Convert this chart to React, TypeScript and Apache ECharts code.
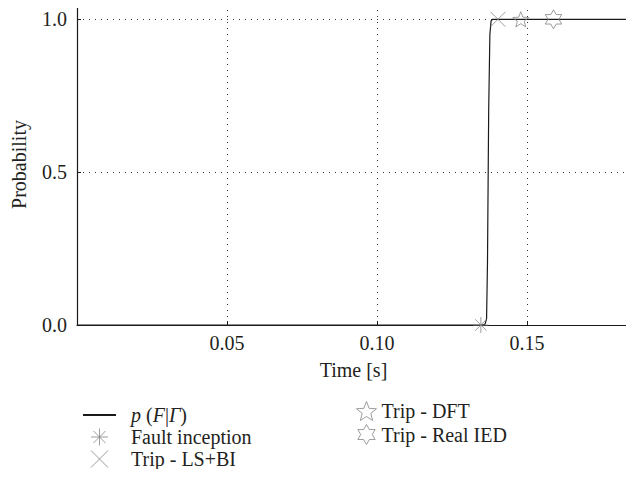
import React, { useEffect, useRef } from "react";
import * as echarts from "echarts";

// ---- data ----
const curveTime = [0, 0.135, 0.136, 0.1365, 0.1368, 0.1372, 0.1376, 0.138, 0.1385, 0.1843];
const curveProb = [0, 0, 0.003, 0.02, 0.2, 0.7, 0.95, 0.995, 1.0, 1.0];
const faultTime = [0.1346];
const faultProb = [0];
const lsbiTime = [0.1403];
const lsbiProb = [1];
const dftTime = [0.1479];
const dftProb = [1];
const realTime = [0.1588];
const realProb = [1];

const NAME_P = "p (F|Γ)";
const NAME_FAULT = "Fault inception";
const NAME_LSBI = "Trip - LS+BI";
const NAME_DFT = "Trip - DFT";
const NAME_REAL = "Trip - Real IED";

const FONT = "Liberation Serif";
const TXT = "#231f20";
const GRAY = "#858585";
const FS = 20;

function starPath(n: number, R: number, r: number): string {
  const pts: string[] = [];
  for (let i = 0; i < 2 * n; i++) {
    const a = -Math.PI / 2 + (i * Math.PI) / n;
    const rad = i % 2 === 0 ? R : r;
    pts.push(`${(rad * Math.cos(a)).toFixed(3)},${(rad * Math.sin(a)).toFixed(3)}`);
  }
  return "path://M" + pts.join("L") + "Z";
}

const ASTERISK = "path://M0,-10L0,10M-10,0L10,0M-7.07,-7.07L7.07,7.07M-7.07,7.07L7.07,-7.07";
const CROSS = "path://M-10,-10L10,10M-10,10L10,-10";
const STAR5 = starPath(5, 10, 4.3);
const STAR6 = starPath(6, 10, 5.77);

const zip = (a: number[], b: number[]) => a.map((v, i) => [v, b[i]]);

export default function App() {
  const ref = useRef<HTMLDivElement>(null);
  useEffect(() => {
    if (!ref.current) return;
    const chart = echarts.init(ref.current, undefined, { renderer: "svg" });
    const markerStyle = {
      color: "rgba(0,0,0,0)",
      borderColor: GRAY,
      borderWidth: 1,
    };
    const scatter = (name: string, t: number[], p: number[], symbol: string, size: number) => ({
      name,
      type: "scatter",
      data: zip(t, p),
      symbol,
      symbolSize: size,
      symbolKeepAspect: true,
      itemStyle: markerStyle,
      z: 5,
    });
    const common = { fontFamily: FONT, color: TXT, fontSize: FS };
    const axisLine = { show: true, onZero: false, lineStyle: { color: "#1a1a1a", width: 1.2 } };
    const axisTick = { show: true, inside: true, length: 4, lineStyle: { color: "#1a1a1a" } };
    const splitLine = { show: true, lineStyle: { color: "#333", type: [1, 5], width: 1 } };
    chart.setOption({
      animation: false,
      textStyle: { fontFamily: FONT },
      grid: { left: 77, right: 4, top: 4, bottom: 152, containLabel: false },
      xAxis: [
        {
          type: "value",
          min: 0,
          max: 0.1843,
          interval: 0.05,
          name: "Time [s]",
          nameLocation: "middle",
          nameGap: 35,
          nameMoveOverlap: false,
          nameTextStyle: common,
          axisLine,
          axisTick,
          axisLabel: {
            ...common,
            margin: 8,
            showMinLabel: false,
            showMaxLabel: false,
            formatter: (v: number) => v.toFixed(2),
          },
          splitLine,
        },
        {
          type: "value",
          position: "top",
          min: 0,
          max: 0.1843,
          interval: 0.05,
          axisLine,
          axisTick,
          axisLabel: { show: false },
          splitLine: { show: false },
        },
      ],
      yAxis: [
        {
          type: "value",
          min: 0,
          max: 1.05,
          interval: 0.5,
          name: "Probability",
          nameLocation: "middle",
          nameGap: 48,
          nameTextStyle: common,
          axisLine,
          axisTick,
          axisLabel: {
            ...common,
            margin: 10,
            showMaxLabel: false,
            formatter: (v: number) => v.toFixed(1),
          },
          splitLine,
        },
        {
          type: "value",
          position: "right",
          min: 0,
          max: 1.05,
          interval: 0.5,
          axisLine,
          axisTick,
          axisLabel: { show: false },
          splitLine: { show: false },
        },
      ],
      legend: [
        {
          orient: "vertical",
          left: 77,
          top: 399,
          height: 100,
          itemWidth: 33,
          itemHeight: 17,
          itemGap: 0,
          data: [
            {
              name: NAME_P,
              itemStyle: { color: "rgba(0,0,0,0)", borderWidth: 0, opacity: 0 },
            },
            NAME_FAULT,
            NAME_LSBI,
          ],
          itemStyle: { borderWidth: 1 },
          textStyle: {
            ...common,
            lineHeight: 22,
            padding: [0, 0, 0, 10],
            rich: { i: { fontFamily: FONT, fontStyle: "italic", fontSize: FS, color: TXT, lineHeight: 22 } },
          },
          formatter: (name: string) => (name === NAME_P ? "{i|p} ({i|F}|{i|Γ})" : name),
        },
        {
          orient: "vertical",
          left: 351,
          top: 396,
          height: 100,
          itemWidth: 20,
          itemHeight: 20,
          itemGap: 3,
          data: [NAME_DFT, NAME_REAL],
          itemStyle: { borderWidth: 1 },
          textStyle: { ...common, padding: [0, 0, 0, 0] },
        },
      ],
      series: [
        {
          name: NAME_P,
          type: "line",
          data: zip(curveTime, curveProb),
          showSymbol: false,
          symbol: "none",
          lineStyle: { color: "#1a1a1a", width: 1.2 },
          itemStyle: { color: "#1a1a1a" },
          z: 3,
        },
        scatter(NAME_FAULT, faultTime, faultProb, ASTERISK, 16),
        scatter(NAME_LSBI, lsbiTime, lsbiProb, CROSS, 15),
        scatter(NAME_DFT, dftTime, dftProb, STAR5, 16),
        scatter(NAME_REAL, realTime, realProb, STAR6, 19),
      ],
    });
    return () => chart.dispose();
  }, []);
  return <div ref={ref} style={{ width: 634, height: 477, margin: -8 }} />;
}
